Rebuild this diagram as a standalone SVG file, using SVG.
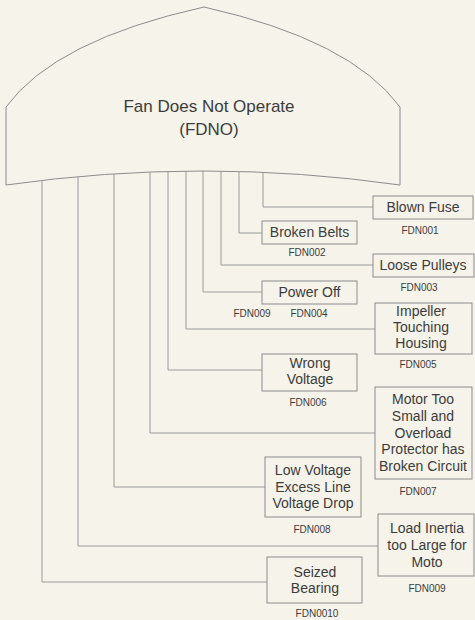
<svg xmlns="http://www.w3.org/2000/svg" width="475" height="620" viewBox="0 0 475 620">
<style>
.bg{fill:#f6f3ea}
.shape{fill:none;stroke:#8c8c8c;stroke-width:1}
.box{fill:none;stroke:#8c8c8c;stroke-width:1}
.conn{fill:none;stroke:#9a9a9a;stroke-width:1}
text{font-family:"Liberation Sans",Arial,sans-serif;fill:#3c3c3c;text-anchor:middle}
.t{font-size:14px}
.c{font-size:10px}
.title{font-size:17px}
</style>
<rect class="bg" x="0" y="0" width="475" height="620"/>
<g id="top">
<path class="shape" d="M 6 107 Q 55 40 204 7 Q 351 40 400 107 L 400 185 Q 203 157 6 185 Z"/>
<text class="title" x="209" y="112">Fan Does Not Operate</text>
<text class="title" x="209" y="135">(FDNO)</text>
</g>
<g id="connectors">
<path class="conn" d="M263 172.3 V207 H373"/>
<path class="conn" d="M239 171.5 V233 H262"/>
<path class="conn" d="M221 171.1 V265 H373"/>
<path class="conn" d="M203 171 V292 H262"/>
<path class="conn" d="M186 171.1 V329 H375"/>
<path class="conn" d="M168 171.4 V370 H262"/>
<path class="conn" d="M150 172 V433 H375"/>
<path class="conn" d="M114 173.9 V487 H265"/>
<path class="conn" d="M78 176.6 V546 H378"/>
<path class="conn" d="M42 180.4 V582 H267"/>
</g>
<g id="FDN001">
<rect class="box" x="373" y="196" width="100" height="23"/>
<text class="t" x="423" y="212">Blown Fuse</text>
<text class="c" x="420" y="234">FDN001</text>
</g>
<g id="FDN002">
<rect class="box" x="262" y="221" width="95" height="23"/>
<text class="t" x="309.5" y="237">Broken Belts</text>
<text class="c" x="307" y="256">FDN002</text>
</g>
<g id="FDN003">
<rect class="box" x="373" y="254" width="101" height="23"/>
<text class="t" x="423" y="270">Loose Pulleys</text>
<text class="c" x="419" y="291">FDN003</text>
</g>
<g id="FDN004">
<rect class="box" x="262" y="281" width="95" height="23"/>
<text class="t" x="309.5" y="297">Power Off</text>
<text class="c" x="252" y="317">FDN009</text>
<text class="c" x="309" y="317">FDN004</text>
</g>
<g id="FDN005">
<rect class="box" x="375" y="303" width="97" height="51"/>
<text class="t" x="421" y="316">Impeller</text>
<text class="t" x="421" y="332">Touching</text>
<text class="t" x="421" y="348">Housing</text>
<text class="c" x="418" y="368">FDN005</text>
</g>
<g id="FDN006">
<rect class="box" x="262" y="354" width="95" height="37"/>
<text class="t" x="310" y="368">Wrong</text>
<text class="t" x="310" y="384">Voltage</text>
<text class="c" x="308" y="406">FDN006</text>
</g>
<g id="FDN007">
<rect class="box" x="375" y="387" width="97" height="92"/>
<text class="t" x="423" y="404">Motor Too</text>
<text class="t" x="423" y="421">Small and</text>
<text class="t" x="423" y="437.5">Overload</text>
<text class="t" x="423" y="454">Protector has</text>
<text class="t" x="423" y="471">Broken Circuit</text>
<text class="c" x="418" y="495">FDN007</text>
</g>
<g id="FDN008">
<rect class="box" x="265" y="457" width="96" height="60"/>
<text class="t" x="313" y="475">Low Voltage</text>
<text class="t" x="313" y="492">Excess Line</text>
<text class="t" x="313" y="508">Voltage Drop</text>
<text class="c" x="312" y="533">FDN008</text>
</g>
<g id="FDN009">
<rect class="box" x="378" y="514" width="96" height="62"/>
<text class="t" x="427" y="533">Load Inertia</text>
<text class="t" x="427" y="550">too Large for</text>
<text class="t" x="427" y="567">Moto</text>
<text class="c" x="427" y="592">FDN009</text>
</g>
<g id="FDN0010">
<rect class="box" x="267" y="557" width="95" height="46"/>
<text class="t" x="315" y="577">Seized</text>
<text class="t" x="315" y="593">Bearing</text>
<text class="c" x="317" y="617">FDN0010</text>
</g>
</svg>
